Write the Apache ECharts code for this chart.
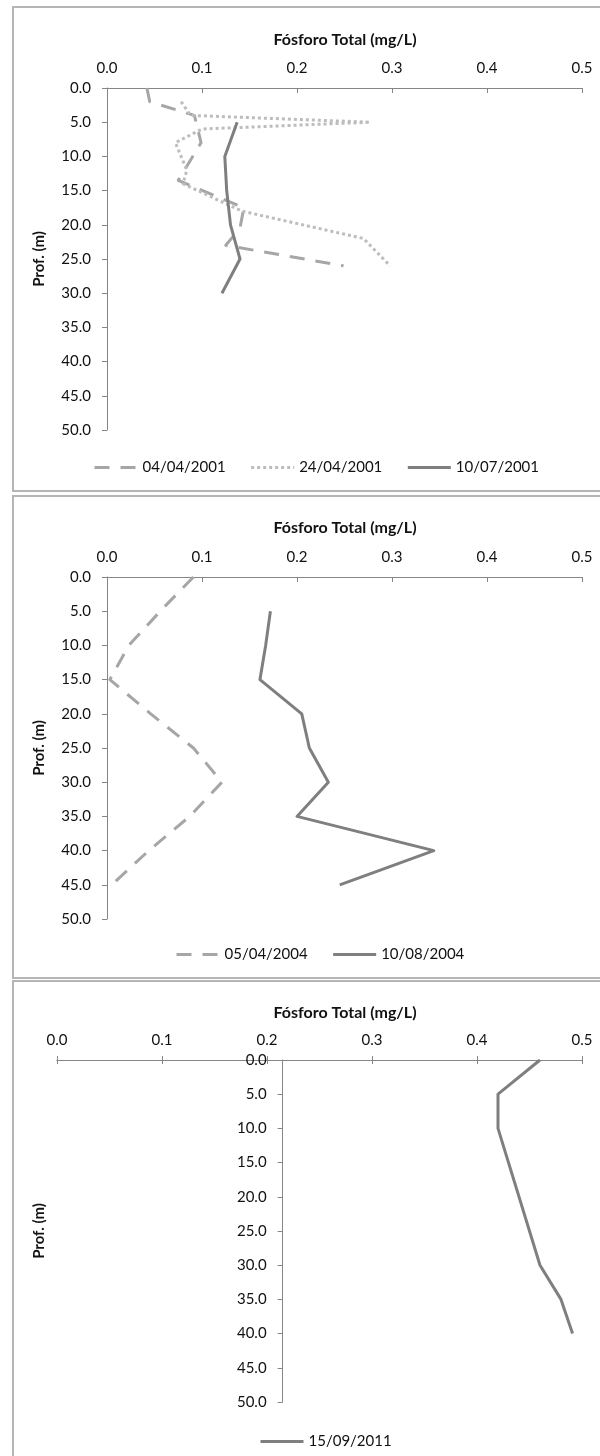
<!DOCTYPE html>
<html>
<head>
<meta charset="utf-8">
<script src="https://cdn.jsdelivr.net/npm/echarts@6/dist/echarts.min.js"></script>
<style>
html,body{margin:0;padding:0;background:#fff;}
#c{width:600px;height:1456px;}
</style>
</head>
<body>
<div id="c"></div>
<script>
// ---------- data ----------
const xTicks = [0.0, 0.1, 0.2, 0.3, 0.4, 0.5];
const depthTicks = [0, 5, 10, 15, 20, 25, 30, 35, 40, 45, 50];
const xTitle = 'Fósforo Total (mg/L)';
const yTitle = 'Prof. (m)';

// Panel 1
const p1Names = ['04/04/2001', '24/04/2001', '10/07/2001'];
const p1aDepth = [0, 2, 4, 8, 13.5, 17.5, 20.5, 23, 26];
const p1aTP    = [0.042, 0.045, 0.092, 0.099, 0.075, 0.144, 0.140, 0.125, 0.249];
const p1bDepth = [2, 4, 5, 6, 8, 12, 14, 18, 22, 26];
const p1bTP    = [0.078, 0.088, 0.277, 0.100, 0.072, 0.084, 0.080, 0.142, 0.270, 0.298];
const p1cDepth = [5, 10, 15, 20, 25, 30];
const p1cTP    = [0.137, 0.124, 0.126, 0.130, 0.140, 0.121];

// Panel 2
const p2Names = ['05/04/2004', '10/08/2004'];
const p2aDepth = [0, 5, 10, 15, 20, 25, 30, 35, 40, 45];
const p2aTP    = [0.091, 0.056, 0.023, 0.003, 0.046, 0.091, 0.121, 0.087, 0.044, 0.005];
const p2bDepth = [5, 10, 15, 20, 25, 30, 35, 40, 45];
const p2bTP    = [0.172, 0.167, 0.161, 0.205, 0.213, 0.233, 0.200, 0.344, 0.245];

// Panel 3
const p3Names = ['15/09/2011'];
const p3Depth = [0, 5, 10, 30, 35, 40];
const p3TP    = [0.460, 0.420, 0.420, 0.460, 0.480, 0.491];
const p3Cross = 0.2; // value where the depth axis crosses

// ---------- helpers ----------
const FONT = 'Lato';
const TXT = '#111111';
const AX = '#868686';
const pairs = (d, v) => d.map((dd, i) => [v[i], dd]);

const chart = echarts.init(document.getElementById('c'), null, {renderer: 'canvas'});

const grids = [
  {left: 107, top: 88,   width: 475, height: 342},
  {left: 107, top: 577,  width: 475, height: 342},
  {left: 57,  top: 1060, width: 525, height: 342}
];

function xAx(gi, extra) {
  return Object.assign({
    type: 'value', gridIndex: gi, position: 'top',
    min: xTicks[0], max: xTicks[xTicks.length - 1], interval: 0.1,
    axisLine: {show: true, onZero: false, lineStyle: {color: AX, width: 1}},
    axisTick: {show: true, inside: true, length: 5, lineStyle: {color: AX}},
    axisLabel: {show: true, margin: 12, color: TXT, fontFamily: FONT, fontSize: 15,
      formatter: v => v.toFixed(1)},
    splitLine: {show: false}
  }, extra || {});
}
function yAx(gi, extra) {
  return Object.assign({
    type: 'value', gridIndex: gi, position: 'left', inverse: true,
    min: depthTicks[0], max: depthTicks[depthTicks.length - 1], interval: 5,
    name: yTitle, nameLocation: 'middle', nameGap: 60,
    nameTextStyle: {color: TXT, fontFamily: FONT, fontSize: 15, fontWeight: 'bold'},
    axisLine: {show: true, onZero: false, lineStyle: {color: AX, width: 1}},
    axisTick: {show: true, inside: false, length: 5, lineStyle: {color: AX}},
    axisLabel: {show: true, margin: 16, color: TXT, fontFamily: FONT, fontSize: 15,
      formatter: v => v.toFixed(1)},
    splitLine: {show: false}
  }, extra || {});
}
function ser(name, xi, d, v, color, type, width) {
  return {
    name, type: 'line', xAxisIndex: xi, yAxisIndex: xi,
    data: pairs(d, v), symbol: 'none', showSymbol: false, smooth: false,
    lineStyle: {color, width, type, cap: 'butt', join: 'round'},
    itemStyle: {color},
    animation: false
  };
}
function legend(left, top, names) {
  return {
    left, top, data: names, orient: 'horizontal', itemWidth: 43, itemHeight: 14, itemGap: 24,
    itemStyle: {color: 'rgba(0,0,0,0)', borderWidth: 0, opacity: 0},
    lineStyle: {width: 3},
    textStyle: {color: TXT, fontFamily: FONT, fontSize: 15}, selectedMode: false
  };
}
function titleAt(cx, cy) {
  return {text: xTitle, left: cx, top: cy - 10, textAlign: 'center',
    textStyle: {color: TXT, fontFamily: FONT, fontSize: 16, fontWeight: 'bold'}};
}
function frame(y, h) {
  return {type: 'rect', shape: {x: 13, y: y, width: 640, height: h},
    style: {fill: 'none', stroke: '#b5b5b5', lineWidth: 2}, silent: true, z: -1};
}

const DASH = [15, 11];
const DOT = [3, 3];

const option = {
  animation: false,
  backgroundColor: '#fff',
  graphic: [frame(7, 484), frame(496, 482), frame(981, 490)],
  title: [titleAt(340, 37), titleAt(340, 525), titleAt(340, 1010)],
  legend: [legend(88, 455, p1Names), legend(170, 942, p2Names), legend(254, 1429, p3Names)],
  grid: grids,
  xAxis: [
    xAx(0), xAx(1),
    xAx(2, {axisTick: {show: true, inside: false, length: 4, lineStyle: {color: AX}}}),
    xAx(2, {axisTick: {show: true, inside: true, length: 4, lineStyle: {color: AX}},
            axisLabel: {show: false}})
  ],
  yAxis: [yAx(0), yAx(1), yAx(2), yAx(2, {show: false, name: ''})],
  series: [
    ser(p1Names[0], 0, p1aDepth, p1aTP, '#a6a6a6', DASH, 3),
    ser(p1Names[1], 0, p1bDepth, p1bTP, '#bdbdbd', DOT, 3),
    ser(p1Names[2], 0, p1cDepth, p1cTP, '#7f7f7f', 'solid', 3),
    ser(p2Names[0], 1, p2aDepth, p2aTP, '#a6a6a6', DASH, 3),
    ser(p2Names[1], 1, p2bDepth, p2bTP, '#7f7f7f', 'solid', 3),
    ser(p3Names[0], 2, p3Depth, p3TP, '#7f7f7f', 'solid', 3)
  ]
};
chart.setOption(option);

// Move panel-3 depth axis so it crosses the value axis at p3Cross
const crossPx = chart.convertToPixel({xAxisIndex: 2}, p3Cross);
const off = crossPx - grids[2].left;
const yAxes = option.yAxis.slice();
yAxes[2] = yAx(2, {offset: -off, nameGap: crossPx - 47});
chart.setOption({yAxis: yAxes});
</script>
</body>
</html>
